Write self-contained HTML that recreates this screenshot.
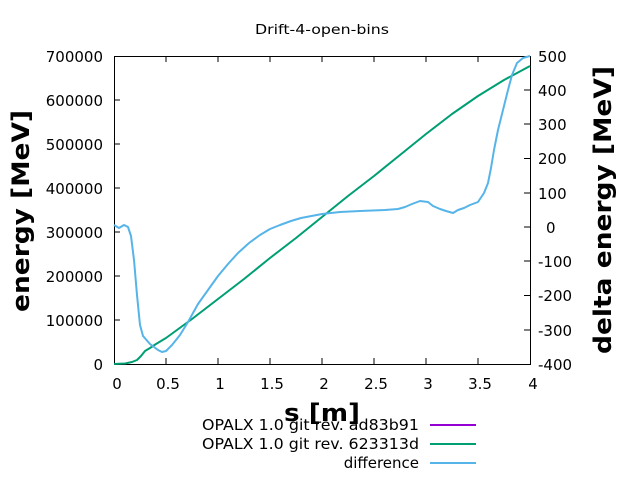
<!DOCTYPE html><html><head><style>body{margin:0;background:#fff}svg{font-family:"DejaVu Sans",sans-serif}</style></head><body>
<svg width="640" height="480" viewBox="0 0 640 480">
<text x="322" y="34" font-size="13" text-anchor="middle" textLength="134" lengthAdjust="spacingAndGlyphs">Drift-4-open-bins</text>
<g stroke="#000" stroke-width="1" fill="none">
<rect x="114.5" y="56.5" width="416" height="308"/>
<path d="M114 320h6M114 276h6M114 232h6M114 188h6M114 144h6M114 100h6M530 330h-6M530 295.5h-6M530 261h-6M530 227h-6M530 193h-6M530 158.5h-6M530 124h-6M530 90h-6M166 364v-6M218 364v-6M270 364v-6M322 364v-6M374 364v-6M426 364v-6M478 364v-6M166 56v6M218 56v6M270 56v6M322 56v6M374 56v6M426 56v6M478 56v6"/>
</g>
<g font-size="15" text-anchor="end">
<text x="103" y="370">0</text><text x="103" y="326">100000</text><text x="103" y="282">200000</text><text x="103" y="238">300000</text><text x="103" y="194">400000</text><text x="103" y="150">500000</text><text x="103" y="106">600000</text><text x="103" y="62">700000</text>
</g>
<g font-size="15" text-anchor="start">
<text x="538" y="370">-400</text><text x="538" y="336">-300</text><text x="538" y="301">-200</text><text x="538" y="267">-100</text><text x="546" y="233">0</text><text x="538" y="199">100</text><text x="538" y="164">200</text><text x="538" y="130">300</text><text x="538" y="96">400</text><text x="538" y="62">500</text>
</g>
<g font-size="15" text-anchor="middle">
<text x="117" y="389">0</text><text x="168" y="389">0.5</text><text x="220" y="389">1</text><text x="272" y="389">1.5</text><text x="324" y="389">2</text><text x="376" y="389">2.5</text><text x="428" y="389">3</text><text x="480" y="389">3.5</text><text x="533" y="389">4</text>
</g>
<text x="322" y="421" font-size="24" font-weight="bold" text-anchor="middle" textLength="76" lengthAdjust="spacingAndGlyphs">s [m]</text>
<text transform="translate(29,211) rotate(-90)" font-size="24" font-weight="bold" text-anchor="middle" textLength="202" lengthAdjust="spacingAndGlyphs">energy [MeV]</text>
<text transform="translate(611,210) rotate(-90)" font-size="24" font-weight="bold" text-anchor="middle" textLength="288" lengthAdjust="spacingAndGlyphs">delta energy [MeV]</text>
<polyline fill="none" stroke="#009e73" stroke-width="2" stroke-linejoin="round" points="114,364 125,363.5 132,362 137,360 141,356 145,351 150,348 156,344 166,338 192,319 218,299 244,279 270,258 296,238 322,217 348,196 374,176 400,155 426,134 452,114 478,96 504,80 530,66"/>
<polyline fill="none" stroke="#56b4e9" stroke-width="2" stroke-linejoin="round" points="114,225 119,228 124,225 128,227 131,236 134,260 137,295 140,325 143,336 150,344 158,350 162,352 166,351 172,345 180,335 188,322 198,304 208,290 218,276 228,264 238,253 249,243 260,235 270,229 280,225 291,221 301,218 322,214 340,212 360,211 385,210 398,209 405,207 412,204 420,201 428,202 433,206 440,209 446,211 453,213 458,210 464,208 470,205 478,202 484,193 488,183 491,168 494,150 498,130 503,110 508,90 512,75 517,63 523,58 530,56"/>
<g font-size="15" text-anchor="end">
<text x="419" y="430" textLength="217" lengthAdjust="spacingAndGlyphs">OPALX 1.0 git rev. ad83b91</text>
<text x="419" y="449" textLength="217" lengthAdjust="spacingAndGlyphs">OPALX 1.0 git rev. 623313d</text>
<text x="419" y="468">difference</text>
</g>
<path d="M430 425h46" stroke="#9400d3" stroke-width="2"/>
<path d="M430 444h46" stroke="#009e73" stroke-width="2"/>
<path d="M430 463h46" stroke="#56b4e9" stroke-width="2"/>
</svg></body></html>
